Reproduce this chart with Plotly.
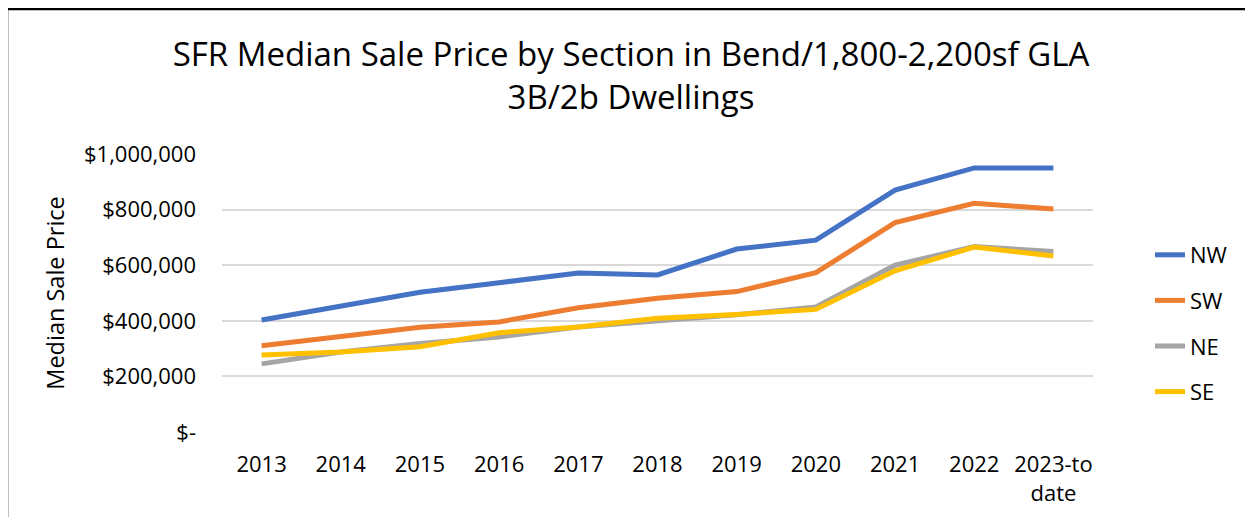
import plotly.graph_objects as go

years = ["2013", "2014", "2015", "2016", "2017", "2018", "2019", "2020", "2021", "2022", "2023-to<br>date"]
nw = [403000, 455000, 503000, 537000, 572000, 565000, 658000, 690000, 870000, 950000, 950000]
sw = [310000, 343000, 377000, 396000, 447000, 481000, 505000, 573000, 753000, 823000, 802000]
ne = [245000, 288000, 318000, 342000, 378000, 398000, 422000, 450000, 600000, 667000, 649000]
se = [277000, 288000, 307000, 357000, 378000, 409000, 423000, 441000, 580000, 665000, 633000]

series_names = ["NW", "SW", "NE", "SE"]
series_vals = [nw, sw, ne, se]
colors = ["#4472C4", "#ED7D31", "#A5A5A5", "#FFC000"]

y_tickvals = [0, 200000, 400000, 600000, 800000, 1000000]
y_ticktext = ["$-", "$200,000", "$400,000", "$600,000", "$800,000", "$1,000,000"]

FONT = "Open Sans"

# page body has an 8px default margin; work in page pixels and shift
OFF = 8
W, H = 1253 - OFF, 517 - OFF
L, R, T, B = 222 - OFF, 1093 - OFF, 154 - OFF, 432 - OFF

fig = go.Figure()
for name, vals, col in zip(series_names, series_vals, colors):
    fig.add_trace(go.Scatter(
        x=years, y=vals, mode="lines", name=name, legendgroup=name,
        line=dict(color=col, width=5),
    ))

fig.update_layout(
    width=W, height=H,
    margin=dict(l=L, r=W - R, t=T, b=H - B, pad=0, autoexpand=False),
    paper_bgcolor="white", plot_bgcolor="white",
    font=dict(family=FONT, size=22, color="#000000"),
    title=dict(
        text="SFR Median Sale Price by Section in Bend/1,800-2,200sf GLA<br>3B/2b Dwellings",
        x=(631 - OFF) / W, xanchor="center", xref="container",
        y=1 - (66 - OFF) / H, yanchor="top", yref="container",
        font=dict(family=FONT, size=33, color="#000000"),
    ),
    xaxis=dict(
        type="category", range=[-0.5, 10.5], showgrid=False, zeroline=False, showline=False,
        ticks="", ticklabelstandoff=17, tickfont=dict(size=22),
    ),
    yaxis=dict(
        range=[0, 1000000], tickvals=y_tickvals, ticktext=y_ticktext,
        showgrid=True, gridcolor="#D9D9D9", gridwidth=1.5,
        zeroline=False, showline=False, ticks="",
        ticklabelstandoff=25, tickfont=dict(size=22),
        title=dict(text="Median Sale Price", font=dict(size=23.5), standoff=12),
    ),
    showlegend=True,
    legend=dict(
        x=(1150 - 222) / (R - L), xanchor="left",
        y=(432 - 234) / (B - T), yanchor="top",
        tracegroupgap=14, font=dict(size=22),
        bgcolor="rgba(0,0,0,0)",
    ),
)

fig.add_shape(
    type="rect", xref="paper", yref="paper",
    x0=(7 - 222) / (R - L), x1=(1300 - 222) / (R - L),
    y0=(432 - 560) / (B - T), y1=(432 - 9) / (B - T),
    line=dict(color="black", width=2.5), fillcolor="rgba(0,0,0,0)", layer="below",
)

fig.write_html("out.html")
